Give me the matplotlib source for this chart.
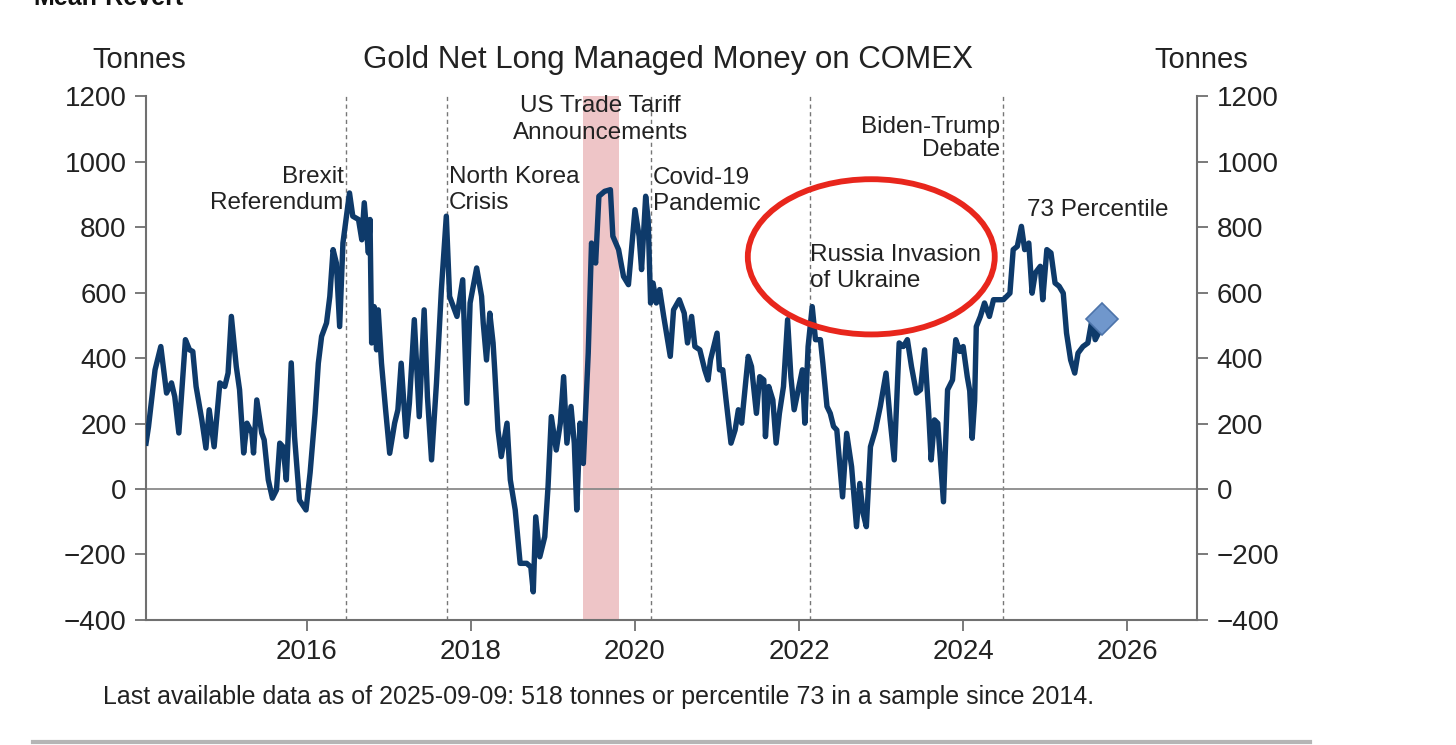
import numpy as np
import matplotlib
matplotlib.use('Agg')
import matplotlib.pyplot as plt
from matplotlib.patches import Ellipse
from matplotlib.lines import Line2D

plt.rcParams['font.family'] = ['Liberation Sans', 'DejaVu Sans']

# weekly-ish reading of the net long position (decimal year, tonnes)
years = [2014.04, 2014.07, 2014.15, 2014.22, 2014.29, 2014.35, 2014.39, 2014.44, 2014.52, 2014.57,
         2014.61, 2014.65, 2014.72, 2014.77, 2014.81, 2014.87, 2014.94, 2015.00, 2015.04, 2015.08,
         2015.14, 2015.18, 2015.23, 2015.27, 2015.33, 2015.35, 2015.39, 2015.45, 2015.48, 2015.53,
         2015.58, 2015.63, 2015.67, 2015.71, 2015.75, 2015.81, 2015.85, 2015.91, 2015.99, 2016.04,
         2016.10, 2016.14, 2016.18, 2016.24, 2016.28, 2016.32, 2016.36, 2016.40, 2016.44, 2016.52,
         2016.56, 2016.63, 2016.67, 2016.70, 2016.75, 2016.77, 2016.79, 2016.82, 2016.85, 2016.87,
         2016.91, 2016.96, 2017.01, 2017.07, 2017.11, 2017.15, 2017.21, 2017.25, 2017.31, 2017.37,
         2017.43, 2017.47, 2017.52, 2017.58, 2017.64, 2017.70, 2017.74, 2017.83, 2017.90, 2017.95,
         2017.99, 2018.07, 2018.13, 2018.15, 2018.19, 2018.23, 2018.27, 2018.29, 2018.33, 2018.37,
         2018.44, 2018.48, 2018.54, 2018.60, 2018.68, 2018.73, 2018.76, 2018.79, 2018.84, 2018.90,
         2018.94, 2018.98, 2019.04, 2019.09, 2019.13, 2019.17, 2019.22, 2019.26, 2019.29, 2019.33,
         2019.37, 2019.43, 2019.47, 2019.52, 2019.56, 2019.63, 2019.70, 2019.73, 2019.80, 2019.86,
         2019.92, 2020.00, 2020.05, 2020.08, 2020.13, 2020.16, 2020.19, 2020.22, 2020.26, 2020.30,
         2020.35, 2020.43, 2020.47, 2020.54, 2020.60, 2020.64, 2020.69, 2020.73, 2020.79, 2020.85,
         2020.89, 2020.92, 2021.00, 2021.03, 2021.07, 2021.11, 2021.17, 2021.22, 2021.26, 2021.30,
         2021.38, 2021.42, 2021.48, 2021.52, 2021.57, 2021.59, 2021.63, 2021.68, 2021.72, 2021.76,
         2021.81, 2021.86, 2021.90, 2021.94, 2021.99, 2022.04, 2022.07, 2022.11, 2022.16, 2022.20,
         2022.26, 2022.29, 2022.34, 2022.38, 2022.42, 2022.46, 2022.53, 2022.58, 2022.64, 2022.70,
         2022.74, 2022.78, 2022.82, 2022.87, 2022.93, 2022.99, 2023.06, 2023.11, 2023.16, 2023.22,
         2023.27, 2023.32, 2023.37, 2023.43, 2023.48, 2023.53, 2023.58, 2023.61, 2023.65, 2023.69,
         2023.76, 2023.81, 2023.87, 2023.91, 2023.96, 2024.00, 2024.05, 2024.08, 2024.11, 2024.14,
         2024.16, 2024.21, 2024.26, 2024.32, 2024.37, 2024.45, 2024.49, 2024.57, 2024.61, 2024.66,
         2024.71, 2024.75, 2024.80, 2024.84, 2024.88, 2024.94, 2024.97, 2025.02, 2025.07, 2025.12,
         2025.17, 2025.22, 2025.26, 2025.31, 2025.36, 2025.40, 2025.46, 2025.52, 2025.57, 2025.61,
         2025.65, 2025.69]
tonnes = [140, 190, 364, 435, 293, 324, 282, 171, 456, 425,
          420, 313, 211, 125, 242, 129, 324, 313, 354, 527,
          374, 303, 110, 201, 171, 110, 272, 171, 150, 28,
          -28, -3, 140, 129, 28, 385, 160, -34, -64, 50,
          230, 384, 466, 507, 588, 731, 690, 496, 751, 904,
          833, 823, 761, 874, 721, 823, 446, 557, 425, 547,
          384, 242, 109, 201, 242, 384, 160, 262, 517, 221,
          547, 282, 89, 323, 609, 833, 588, 527, 639, 262,
          568, 675, 588, 507, 394, 537, 446, 364, 180, 99,
          201, 28, -64, -227, -227, -238, -314, -85, -207, -146,
          7, 221, 119, 201, 343, 140, 252, 140, -64, 201,
          78, 415, 751, 690, 894, 909, 914, 772, 731, 649,
          624, 853, 772, 670, 894, 823, 568, 629, 568, 609,
          527, 405, 547, 578, 537, 446, 527, 435, 425, 364,
          333, 394, 476, 364, 364, 272, 140, 180, 242, 201,
          405, 374, 231, 343, 333, 160, 313, 272, 140, 231,
          313, 517, 343, 242, 303, 364, 201, 435, 557, 456,
          456, 384, 252, 231, 191, 180, -24, 170, 68, -115,
          17, -74, -115, 129, 180, 252, 354, 211, 89, 446,
          435, 456, 374, 293, 303, 425, 231, 89, 211, 201,
          -39, 303, 333, 456, 420, 435, 343, 300, 155, 270,
          496, 527, 568, 527, 578, 578, 578, 598, 731, 741,
          802, 731, 751, 598, 660, 680, 578, 731, 721, 629,
          619, 598, 476, 394, 354, 415, 435, 446, 517, 456,
          476, 518]

# event dates (vertical dashed lines) and the shaded tariff window
event_years = [2016.48, 2017.71, 2020.20, 2022.13, 2024.48]
shade_start, shade_end = 2019.37, 2019.80

fig = plt.figure(figsize=(14.56, 7.45), dpi=100)
ax = fig.add_axes([0.1003, 0.1678, 0.7218, 0.7033])

navy = '#0e3a6a'
grey = '#707070'
ink = '#222222'

ax.axvspan(shade_start, shade_end, color='#eec5c7', zorder=0, lw=0)
for ey in event_years:
    ax.axvline(ey, color='#777777', lw=1.0, ls=(0, (3, 2.5)), zorder=1)
ax.axhline(0, color='#8a8a8a', lw=1.3, zorder=1)

ax.plot(years, tonnes, color=navy, lw=3.9, solid_joinstyle='round', zorder=3)
ax.plot(years[-1], tonnes[-1], marker='D', ms=16, color='#7097cc',
        mec='#4d74aa', mew=1.2, zorder=4)

ax.set_xlim(2014.04, 2026.85)
ax.set_ylim(-400, 1200)
ax.set_xticks([2016, 2018, 2020, 2022, 2024, 2026])
ax.set_yticks(np.arange(-400, 1201, 200))
ax.yaxis.set_major_formatter(matplotlib.ticker.FuncFormatter(
    lambda v, p: '\u2212%d' % abs(v) if v < 0 else '%d' % v))
ax.tick_params(axis='both', labelsize=20, color=grey, width=1.3, length=8,
               labelcolor=ink, pad=6)
ax.tick_params(axis='y', right=True, labelright=True)
for side in ['left', 'right', 'bottom']:
    ax.spines[side].set_color(grey)
    ax.spines[side].set_linewidth(1.5)
ax.spines['top'].set_visible(False)

tsize = 17.5
ax.text(2016.45, 913, 'Brexit\nReferendum', ha='right', va='center', fontsize=tsize,
        color=ink, linespacing=1.25)
ax.text(2017.73, 913, 'North Korea\nCrisis', ha='left', va='center', fontsize=tsize,
        color=ink, linespacing=1.25)
ax.text(2019.58, 1128, 'US Trade Tariff\nAnnouncements', ha='center', va='center',
        fontsize=tsize, color=ink, linespacing=1.25)
ax.text(2020.22, 911, 'Covid-19\nPandemic', ha='left', va='center', fontsize=tsize,
        color=ink, linespacing=1.25)
ax.text(2024.45, 1070, 'Biden-Trump\nDebate', ha='right', va='center', fontsize=tsize,
        color=ink, linespacing=1.1)
ax.text(2022.13, 674, 'Russia Invasion\nof Ukraine', ha='left', va='center',
        fontsize=tsize, color=ink, linespacing=1.25)
ax.text(2024.78, 853, '73 Percentile', ha='left', va='center', fontsize=tsize,
        color=ink)

ring = Ellipse((2022.88, 709), width=3.01, height=474, fill=False,
               edgecolor='#e8261c', lw=4.2, zorder=5, clip_on=False)
ax.add_patch(ring)

fig.text(668 / 1456, 1 - 60 / 745, 'Gold Net Long Managed Money on COMEX',
         ha='center', va='center', fontsize=22.5, color=ink)
fig.text(139.5 / 1456, 1 - 60 / 745, 'Tonnes', ha='center', va='center',
         fontsize=21, color=ink)
fig.text(1201 / 1456, 1 - 60 / 745, 'Tonnes', ha='center', va='center',
         fontsize=21, color=ink)
# section heading above the chart, cropped at the top edge as in the source
fig.text(33 / 1456, 1 - 5 / 745, 'Mean-Revert', ha='left', va='baseline',
         fontsize=18, fontweight='bold', color='#111111')
fig.text(103 / 1456, 1 - 697 / 745,
         'Last available data as of 2025-09-09: 518 tonnes or percentile 73 in a sample since 2014.',
         ha='left', va='center', fontsize=18, color=ink)

fig.add_artist(Line2D([33 / 1456, 1310 / 1456], [1 - 742 / 745, 1 - 742 / 745],
                      color='#b5b5b5', lw=3, transform=fig.transFigure))

fig.savefig('out.png', dpi=100)
